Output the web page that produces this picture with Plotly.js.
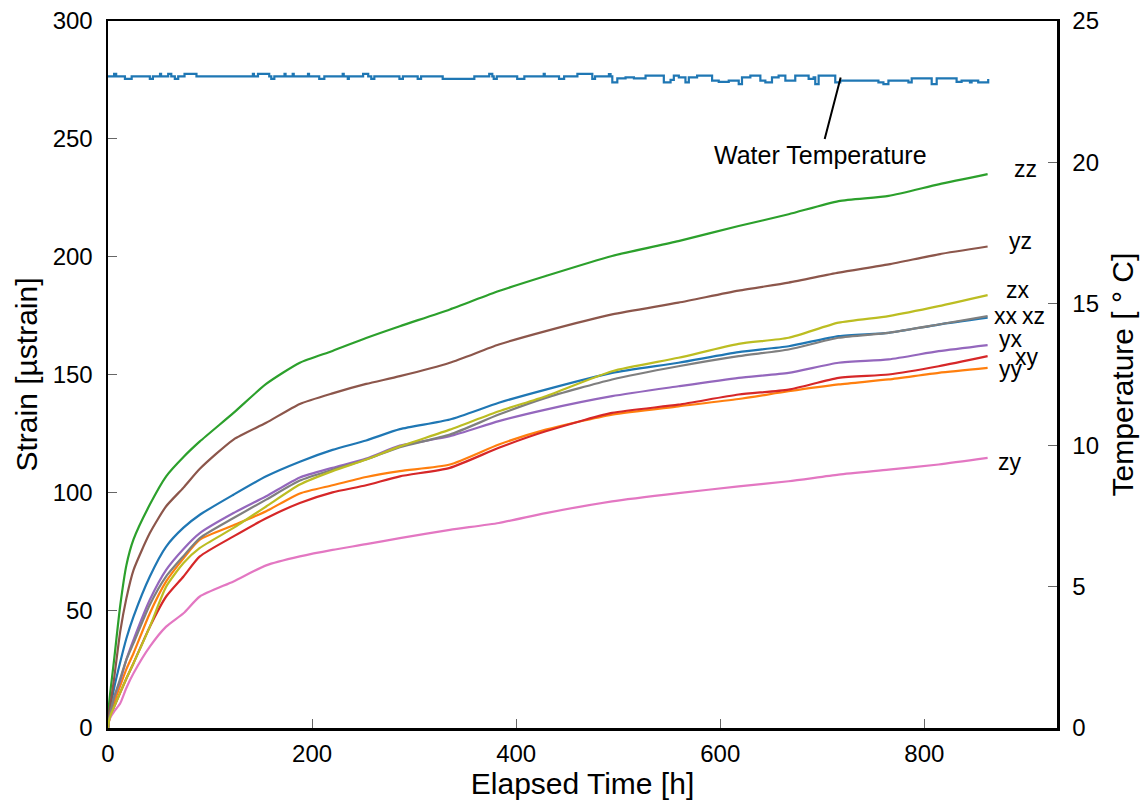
<!DOCTYPE html>
<html>
<head>
<meta charset="utf-8">
<script src="https://cdn.plot.ly/plotly-3.0.1.min.js"></script>
<style>html,body{margin:0;padding:0;background:#fff;}#chart{width:1145px;height:805px;}</style>
</head>
<body>
<div id="chart"></div>
<script>
// Elapsed time [h] sampling points for strain series
const hours = [0, 1, 3, 6, 12, 18, 25, 41, 57, 74, 90, 123, 155, 188, 220, 253, 286, 335, 383, 429, 494, 559, 618, 667, 716, 765, 814, 862];

// Strain [µstrain]
const xx = [0, 5, 10, 17, 28, 38, 47.3, 64.3, 77, 85, 90.5, 99, 106.8, 113, 118, 122, 126.8, 130.9, 138, 143.6, 150.7, 155, 159.5, 162, 166.3, 167.7, 171.2, 174.1];
const yy = [0, 4, 7, 11, 18, 25, 31.7, 48.7, 62.2, 72, 79.9, 86, 92, 99.5, 103, 106.5, 109, 111.8, 120.3, 126.6, 133, 136.5, 139.6, 142.9, 145.8, 147.9, 150.7, 152.8];
const zz = [0, 10, 18, 29, 52, 69, 80, 94.8, 106.8, 115, 121.6, 133.7, 146, 155, 160, 165.5, 170.5, 177.6, 185.4, 191.8, 200.3, 206.6, 213, 218, 223.6, 225.8, 230.7, 235];
const xy = [0, 3, 6, 9, 15, 21, 27.5, 43, 55.8, 64.3, 72.8, 81.3, 89, 95.5, 100, 103, 106.8, 110.4, 118.9, 125.9, 133.7, 137.2, 141.5, 143.6, 148.6, 150, 153.5, 157.8];
const yx = [0, 4, 8, 13, 20, 29, 37.4, 54.4, 67.1, 76, 82.7, 91.2, 98.3, 106.3, 110.4, 114.3, 119.8, 123.8, 130.2, 135.1, 140.8, 145, 148.6, 150.7, 155, 156.4, 159.9, 162.5];
const yz = [0, 6, 12, 21, 41, 55, 67, 82.7, 94.1, 102, 110, 122.4, 129.5, 137.5, 142, 146, 149.3, 155, 162.7, 168.4, 175.5, 180.5, 185.6, 189, 193.2, 196.7, 201, 204.3];
const zy = [0, 3, 5, 7, 10.5, 17, 23.2, 34.5, 43, 48.7, 55.8, 62.2, 69, 72.8, 75.6, 78, 80.6, 84.1, 87, 91.2, 96.2, 99.7, 102.5, 104.7, 107.5, 109.6, 111.8, 114.6];
const xz = [0, 4, 8, 13, 21, 29, 36, 52.3, 64.3, 73, 80.6, 89.1, 96.9, 105, 109.6, 113.9, 119.2, 124.5, 133, 140.1, 147.9, 153.5, 157.8, 160.6, 165.6, 167.7, 171.2, 174.8];
const zx = [0, 3, 6, 9, 15, 21, 27.5, 43, 60, 70, 76.4, 84.9, 94, 103.3, 109, 113.9, 119.5, 126.6, 134.4, 140.8, 151.4, 157.1, 163, 165.6, 172, 174.8, 179, 183.7];

const seriesNames = ["xx", "yy", "zz", "xy", "yx", "yz", "zy", "xz", "zx"];
const seriesValues = [xx, yy, zz, xy, yx, yz, zy, xz, zx];

// Water temperature [°C] (step changes)
const tempHours = [0, 6, 8, 16.6, 23.2, 41, 44, 51, 52, 59, 62, 65.5, 68.8, 75, 86.7, 142, 143, 147, 158, 160, 163, 173, 174, 181, 182, 196, 197, 207, 212, 230, 231, 235, 236, 250, 255, 258, 261, 285.6, 289, 303.5, 306.8, 328, 359, 373.6, 376.6, 378, 381, 401, 408, 427, 428, 442, 447, 460, 474.6, 477.3, 490.9, 492.5, 494.2, 499.1, 507.2, 515.4, 526.8, 544.7, 551.3, 554.5, 559.4, 565.9, 569.2, 577.3, 592, 598.5, 608.3, 618.1, 621.3, 629.5, 639.3, 644.2, 650.7, 657.2, 663.8, 673.5, 686.6, 691.5, 693.1, 696.4, 712.7, 717.6, 755, 759.9, 764.8, 784.4, 787.6, 807.2, 812.1, 831.6, 836.5, 844.7, 846.3, 852.8, 862.6];
const tempC = [23.04, 23.13, 23.04, 22.95, 23.04, 22.95, 23.04, 23.13, 23.04, 23.13, 23.04, 22.95, 23.04, 23.13, 23.04, 23.13, 23.04, 23.13, 23.04, 22.95, 23.04, 23.13, 23.04, 23.13, 23.04, 23.13, 23.04, 22.95, 23.04, 23.13, 23.04, 22.95, 23.04, 23.13, 23.04, 22.95, 23.04, 22.95, 23.04, 22.95, 23.04, 22.95, 23.04, 23.13, 23.04, 22.95, 23.04, 22.95, 23.04, 23.13, 23.04, 22.95, 23.04, 23.13, 22.95, 23.04, 23.12, 23.04, 22.83, 22.97, 23.01, 22.97, 23.07, 22.83, 22.92, 23.07, 23.01, 22.83, 23.01, 23.07, 22.89, 22.85, 22.89, 22.77, 23.01, 23.07, 22.89, 22.83, 23.01, 23.07, 22.89, 23.07, 22.95, 23.01, 22.77, 23.07, 22.83, 22.89, 22.83, 22.77, 22.89, 22.83, 22.97, 22.77, 22.97, 22.85, 22.89, 22.83, 22.89, 22.83, 22.95];

const colors = ["#1f77b4", "#ff7f0e", "#2ca02c", "#d62728", "#9467bd", "#8c564b", "#e377c2", "#7f7f7f", "#bcbd22"];
const font = "Liberation Sans, Arial, Helvetica, sans-serif";

const traces = seriesNames.map((n, i) => ({
  x: hours, y: seriesValues[i], name: n, type: "scatter", mode: "lines",
  line: {color: colors[i], width: 2.2, shape: "spline", smoothing: 0.6}, xaxis: "x", yaxis: "y", showlegend: false
}));
traces.push({
  x: tempHours, y: tempC, name: "Water Temperature", type: "scatter", mode: "lines",
  line: {color: "#1f77b4", width: 2.2, shape: "hv"}, xaxis: "x", yaxis: "y2", showlegend: false
});

// label placement (layout only)
const labelPos = {
  zz: [899, 237], yz: [894, 206.5], zx: [892, 186], xx: [880, 175], xz: [906.6, 175],
  yx: [885, 165], xy: [901, 157.6], yy: [885, 152.5], zy: [884, 113]
};
const annotations = seriesNames.map(n => ({
  x: labelPos[n][0], y: labelPos[n][1], xref: "x", yref: "y", text: n, showarrow: false,
  font: {family: font, size: 23, color: "#000"}
}));
annotations.push({
  x: 718, y: 23.0, xref: "x", yref: "y2", text: "Water Temperature",
  showarrow: true, arrowhead: 0, arrowwidth: 2, arrowcolor: "#000", ax: -20, ay: 77,
  font: {family: font, size: 25, color: "#000"}
});

const axisCommon = {
  showgrid: false, zeroline: false, showline: true, linecolor: "#000", linewidth: 2.5,
  ticks: "inside", ticklen: 9, tickwidth: 1, tickcolor: "#666", ticklabelstandoff: 8,
  tickfont: {family: font, size: 24, color: "#000"}
};

const layout = {
  width: 1145, height: 805,
  margin: {l: 108, r: 88, t: 21, b: 77},
  paper_bgcolor: "#fff", plot_bgcolor: "#fff",
  font: {family: font, color: "#000"},
  xaxis: Object.assign({}, axisCommon, {
    range: [0, 930], tickvals: [0, 200, 400, 600, 800], mirror: true, ticklabelstandoff: 3,
    title: {text: "Elapsed Time [h]", font: {family: font, size: 30}, standoff: 0}
  }),
  yaxis: Object.assign({}, axisCommon, {
    range: [0, 300], tickvals: [0, 50, 100, 150, 200, 250, 300],
    title: {text: "Strain [µstrain]", font: {family: font, size: 30}, standoff: 6}
  }),
  yaxis2: Object.assign({}, axisCommon, {
    range: [0, 25], tickvals: [0, 5, 10, 15, 20, 25], overlaying: "y", side: "right",
    title: {text: "Temperature [ ° C]", font: {family: font, size: 30}, standoff: 14}
  }),
  annotations: annotations
};

Plotly.newPlot("chart", traces, layout, {displayModeBar: false, staticPlot: true});
</script>
</body>
</html>
